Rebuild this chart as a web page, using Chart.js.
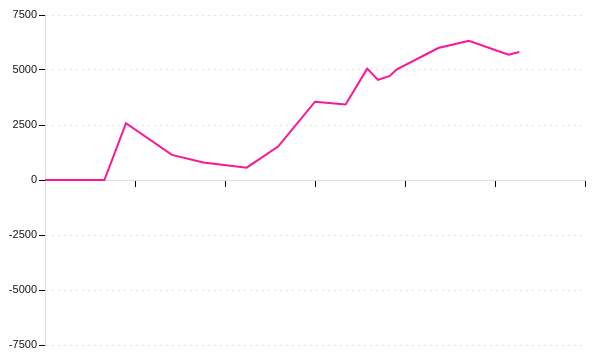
<!DOCTYPE html>
<html lang="en">
<head>
    <meta charset="UTF-8">
    <title>Line chart</title>
    <script src="https://cdn.jsdelivr.net/npm/chart.js"></script>
    <style>
        body { margin: 0; background: #fff; }
    </style>
</head>
<body>
    <canvas id="myChart" width="600" height="360"></canvas>

    <script>
        // x positions on a 0..6 linear axis, y values
        const xValues = [0, 0.66, 0.9, 1.41, 1.76, 2.24, 2.59, 3.0, 3.34, 3.58, 3.70, 3.83, 3.91, 4.37, 4.71, 5.15, 5.27];
        const yValues = [0, 0, 2580, 1140, 800, 560, 1520, 3560, 3430, 5060, 4550, 4730, 5030, 6000, 6330, 5700, 5820];
        const yTicks = [-7500, -5000, -2500, 0, 2500, 5000, 7500];

        const points = xValues.map((x, i) => ({ x: x, y: yValues[i] }));

        const config = {
            type: 'line',
            data: {
                datasets: [{
                    data: points,
                    borderColor: '#ff1493',
                    borderWidth: 2,
                    pointRadius: 0,
                    tension: 0,
                    fill: false
                }]
            },
            options: {
                responsive: false,
                animation: false,
                layout: {
                    padding: { top: 15, bottom: 15, right: 15, left: 0 }
                },
                plugins: {
                    legend: { display: false },
                    tooltip: { enabled: false }
                },
                scales: {
                    x: {
                        type: 'linear',
                        position: { y: 0 },
                        min: 0,
                        max: 6,
                        ticks: { display: false, stepSize: 1 },
                        grid: {
                            drawOnChartArea: false,
                            drawTicks: true,
                            tickLength: 6,
                            tickColor: '#000',
                            tickBorderDash: []
                        },
                        border: { color: '#dddddd', width: 1 }
                    },
                    y: {
                        min: yTicks[0],
                        max: yTicks[yTicks.length - 1],
                        afterBuildTicks: scale => {
                            scale.ticks = yTicks.map(v => ({ value: v }));
                        },
                        afterFit: scale => {
                            scale.width = 45;
                        },
                        ticks: {
                            padding: 2,
                            color: '#111',
                            font: { family: 'Liberation Sans', size: 11 },
                            callback: v => String(v)
                        },
                        grid: {
                            color: '#e4e4e4',
                            tickColor: '#000',
                            tickLength: 6,
                            tickWidth: 1,
                            tickBorderDash: []
                        },
                        border: { color: '#dddddd', width: 1, dash: [2, 4] }
                    }
                }
            }
        };

        new Chart(document.getElementById('myChart').getContext('2d'), config);
    </script>
</body>
</html>
